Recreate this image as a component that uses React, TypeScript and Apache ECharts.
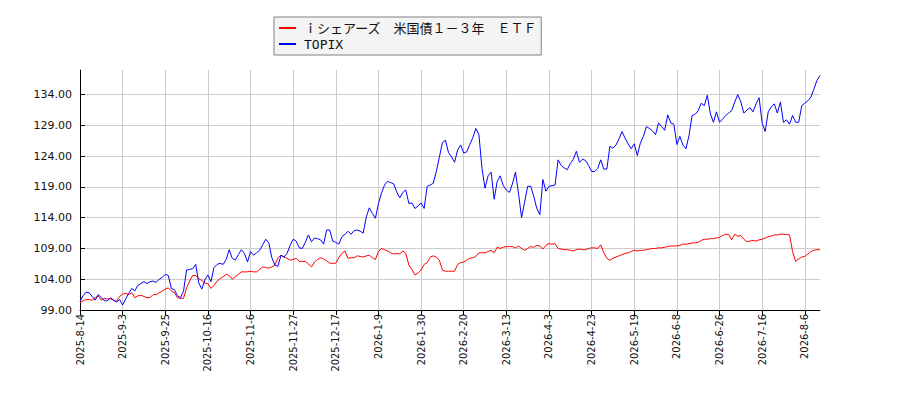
import * as echarts from 'echarts';
import React, { useEffect, useRef } from 'react';

const tickDates = [
  '2025-8-14', '2025-9-3', '2025-9-25', '2025-10-16', '2025-11-6', '2025-11-27',
  '2025-12-17', '2026-1-9', '2026-1-30', '2026-2-20', '2026-3-13', '2026-4-3',
  '2026-4-23', '2026-5-19', '2026-6-8', '2026-6-26', '2026-7-16', '2026-8-6',
];
const tickStep = 14;
const pointCount = 244;

const etfName = 'ｉシェアーズ　米国債１－３年　ＥＴＦ';
const topixName = 'TOPIX';

const etfValues = [
  100.2, 100.5, 100.7, 100.7, 100.6, 101.0, 101.3, 100.6, 100.9, 100.8,
  100.8, 100.6, 100.4, 101.2, 101.6, 101.7, 101.5, 101.8, 101.0, 101.3,
  101.4, 101.2, 101.0, 101.0, 101.5, 101.5, 101.8, 102.1, 102.4, 102.6,
  102.1, 101.8, 101.0, 100.9, 100.9, 102.6, 103.7, 104.6, 104.6, 104.1,
  103.8, 103.4, 103.3, 102.5, 103.0, 103.7, 104.1, 104.4, 104.8, 104.6,
  104.0, 104.4, 104.8, 105.2, 105.2, 105.2, 105.3, 105.2, 105.2, 105.6,
  106.0, 105.9, 105.8, 106.0, 106.3, 107.5, 107.9, 107.6, 107.4, 107.1,
  107.2, 107.4, 106.9, 106.9, 106.9, 106.5, 106.0, 106.8, 107.2, 107.5,
  107.3, 107.0, 106.6, 106.6, 106.6, 107.5, 108.2, 108.6, 107.4, 107.5,
  107.5, 107.8, 107.7, 107.6, 107.8, 107.9, 107.5, 107.2, 108.5, 109.0,
  108.8, 108.6, 108.3, 108.1, 108.2, 108.1, 108.6, 108.2, 106.3, 105.6,
  104.7, 105.0, 105.5, 106.4, 106.7, 107.6, 107.8, 107.6, 107.1, 105.5,
  105.3, 105.3, 105.3, 105.3, 106.4, 106.7, 106.8, 107.1, 107.4, 107.5,
  107.7, 108.3, 108.3, 108.3, 108.5, 108.7, 108.3, 109.2, 109.0, 109.2,
  109.3, 109.3, 109.3, 109.1, 109.4, 109.0, 108.7, 109.0, 109.3, 109.2,
  109.5, 109.4, 108.9, 109.5, 109.8, 109.7, 109.8, 109.0, 108.9, 108.8,
  108.8, 108.7, 108.6, 108.8, 108.9, 108.8, 108.8, 109.0, 109.1, 109.1,
  109.0, 109.6, 108.3, 107.4, 107.1, 107.4, 107.6, 107.8, 108.0, 108.2,
  108.3, 108.5, 108.7, 108.6, 108.7, 108.7, 108.8, 108.9, 109.0, 109.0,
  109.1, 109.1, 109.2, 109.3, 109.4, 109.4, 109.4, 109.5, 109.7, 109.7,
  109.8, 109.9, 109.9, 110.0, 110.3, 110.5, 110.5, 110.6, 110.6, 110.7,
  110.8, 111.1, 111.3, 111.3, 110.4, 111.3, 111.0, 111.1, 110.5, 110.1,
  110.2, 110.3, 110.2, 110.4, 110.5, 110.7, 110.9, 111.0, 111.2, 111.2,
  111.3, 111.3, 111.3, 111.2, 108.5, 106.9, 107.3, 107.6, 107.7, 108.1,
  108.5, 108.7, 108.8, 108.8,
];

const topixValues = [
  100.4, 101.3, 101.9, 101.8, 101.2, 100.6, 101.5, 101.0, 100.5, 100.5,
  101.0, 100.6, 100.3, 100.7, 99.8, 100.8, 101.7, 102.5, 102.1, 103.0,
  103.3, 103.6, 103.3, 103.6, 103.7, 103.5, 104.0, 104.3, 104.8, 104.6,
  102.5, 102.3, 101.3, 101.0, 102.1, 105.5, 105.6, 105.7, 106.4, 103.4,
  102.4, 103.9, 104.7, 103.6, 105.9, 106.4, 106.6, 106.4, 107.2, 108.8,
  107.4, 107.1, 108.0, 108.8, 108.2, 106.8, 108.5, 107.9, 108.3, 108.7,
  109.6, 110.5, 109.9, 107.5, 106.3, 106.1, 107.9, 107.6, 108.2, 109.5,
  110.5, 110.2, 109.1, 109.0, 110.0, 111.2, 110.1, 110.7, 110.6, 110.4,
  109.7, 112.0, 112.0, 110.2, 110.0, 109.7, 110.9, 111.3, 111.8, 111.3,
  111.9, 112.0, 111.8, 111.5, 114.1, 115.6, 114.7, 113.9, 116.3, 118.0,
  119.3, 119.9, 119.7, 119.5, 118.2, 117.2, 118.1, 118.5, 116.3, 116.4,
  115.5, 115.9, 116.4, 115.5, 119.1, 119.3, 119.6, 121.5, 123.8, 126.2,
  126.6, 124.6, 123.9, 123.0, 125.0, 125.8, 124.5, 124.7, 125.9, 127.0,
  128.5, 127.5, 122.0, 118.8, 120.8, 121.4, 117.0, 119.9, 120.8, 119.2,
  118.5, 118.1, 119.5, 121.4, 117.9, 114.0, 116.5, 119.1, 119.1, 117.5,
  115.5, 114.5, 120.2, 118.3, 119.1, 119.2, 119.3, 123.4, 122.5, 122.1,
  121.8, 122.8, 123.5, 124.8, 123.0, 123.5, 123.3, 122.5, 121.5, 121.5,
  122.0, 123.4, 121.9, 121.9, 125.6, 125.3, 125.8, 126.8, 128.0, 126.9,
  126.0, 125.2, 126.0, 124.1, 126.1, 127.2, 128.8, 128.5, 128.1, 127.5,
  129.4, 128.8, 128.2, 130.7, 129.4, 129.2, 125.9, 127.2, 125.8, 125.2,
  127.4, 130.6, 130.8, 131.4, 132.6, 132.2, 133.9, 130.9, 129.5, 131.2,
  129.5, 130.0, 130.6, 131.0, 131.4, 132.8, 134.0, 132.8, 131.0, 131.5,
  131.9, 131.2, 132.5, 133.5, 129.4, 128.0, 131.2, 132.0, 132.5, 131.0,
  132.8, 129.5, 129.9, 129.2, 130.6, 129.5, 129.5, 132.2, 132.6, 133.0,
  133.6, 134.9, 136.3, 137.1,
];

// 目盛りの日付の間を平日で埋める（ラベルは tickStep ごとにしか出ない）
const parseDate = (s: string) => {
  const [y, m, d] = s.split('-').map(Number);
  return new Date(y, m - 1, d);
};
const fmt = (d: Date) => `${d.getFullYear()}-${d.getMonth() + 1}-${d.getDate()}`;

const categories: string[] = [];
tickDates.forEach((t, k) => {
  const start = parseDate(t);
  const end = k + 1 < tickDates.length ? parseDate(tickDates[k + 1]) : null;
  const d = new Date(start);
  let n = 0;
  while (n < tickStep && categories.length < pointCount) {
    if (end && d >= end) break;
    const wd = d.getDay();
    if (wd !== 0 && wd !== 6) {
      categories.push(fmt(d));
      n++;
    }
    d.setDate(d.getDate() + 1);
  }
});

const gridColor = '#cccccc';

const option: echarts.EChartsOption = {
  animation: false,
  legend: {
    orient: 'vertical',
    left: 274,
    top: 17,
    padding: [4, 4, 4, 5],
    itemGap: 2,
    itemWidth: 17,
    itemHeight: 2,
    icon: 'rect',
    backgroundColor: '#f4f4f4',
    borderColor: '#808080',
    borderWidth: 1,
    borderRadius: 0,
    textStyle: {
      fontFamily: "'DejaVu Sans Mono', 'Noto Sans CJK JP', monospace",
      fontSize: 13,
      lineHeight: 14,
      color: '#111',
      padding: [0, 0, 0, 3],
    },
    data: [etfName, topixName],
  },
  grid: {
    left: 80,
    right: 80,
    top: 70,
    bottom: 90,
  },
  xAxis: {
    type: 'category',
    boundaryGap: false,
    data: categories,
    axisLine: { lineStyle: { color: '#000', width: 1 } },
    axisTick: {
      show: true,
      interval: tickStep - 1,
      length: 5,
      lineStyle: { color: '#000' },
    },
    axisLabel: {
      interval: tickStep - 1,
      rotate: 90,
      margin: 4,
      color: '#111',
      fontSize: 11,
      fontFamily: "'DejaVu Sans Condensed', 'Liberation Sans Narrow', sans-serif",
    },
    splitLine: {
      show: true,
      interval: tickStep - 1,
      lineStyle: { color: gridColor, width: 1 },
    },
  },
  yAxis: {
    type: 'value',
    min: 99,
    max: 138,
    interval: 5,
    axisLine: { show: true, lineStyle: { color: '#000', width: 1 } },
    axisTick: { show: true, inside: true, length: 5, lineStyle: { color: '#000' } },
    axisLabel: {
      showMaxLabel: false,
      margin: 8,
      color: '#111',
      fontSize: 11,
      fontFamily: "'DejaVu Sans', sans-serif",
      formatter: (v: number) => v.toFixed(2),
    },
    splitLine: {
      show: true,
      lineStyle: {
        color: [gridColor, gridColor, gridColor, gridColor, gridColor, gridColor, gridColor, gridColor, 'rgba(0,0,0,0)'],
        width: 1,
      },
    },
  },
  series: [
    {
      name: etfName,
      type: 'line',
      data: etfValues,
      showSymbol: false,
      symbol: 'none',
      lineStyle: { color: '#ff0000', width: 1 },
      itemStyle: { color: '#ff0000' },
    },
    {
      name: topixName,
      type: 'line',
      data: topixValues,
      showSymbol: false,
      symbol: 'none',
      lineStyle: { color: '#0000ff', width: 1 },
      itemStyle: { color: '#0000ff' },
    },
  ],
};

const App: React.FC = () => {
  const chartRef = useRef<HTMLDivElement>(null);

  useEffect(() => {
    if (!chartRef.current) return;
    const instance = echarts.init(chartRef.current, undefined, { renderer: 'svg' });
    instance.setOption(option);
    return () => {
      instance.dispose();
    };
  }, []);

  return (
    <div
      ref={chartRef}
      style={{ position: 'fixed', left: 0, top: 0, width: 900, height: 400, background: '#fff' }}
    />
  );
};

export default App;
